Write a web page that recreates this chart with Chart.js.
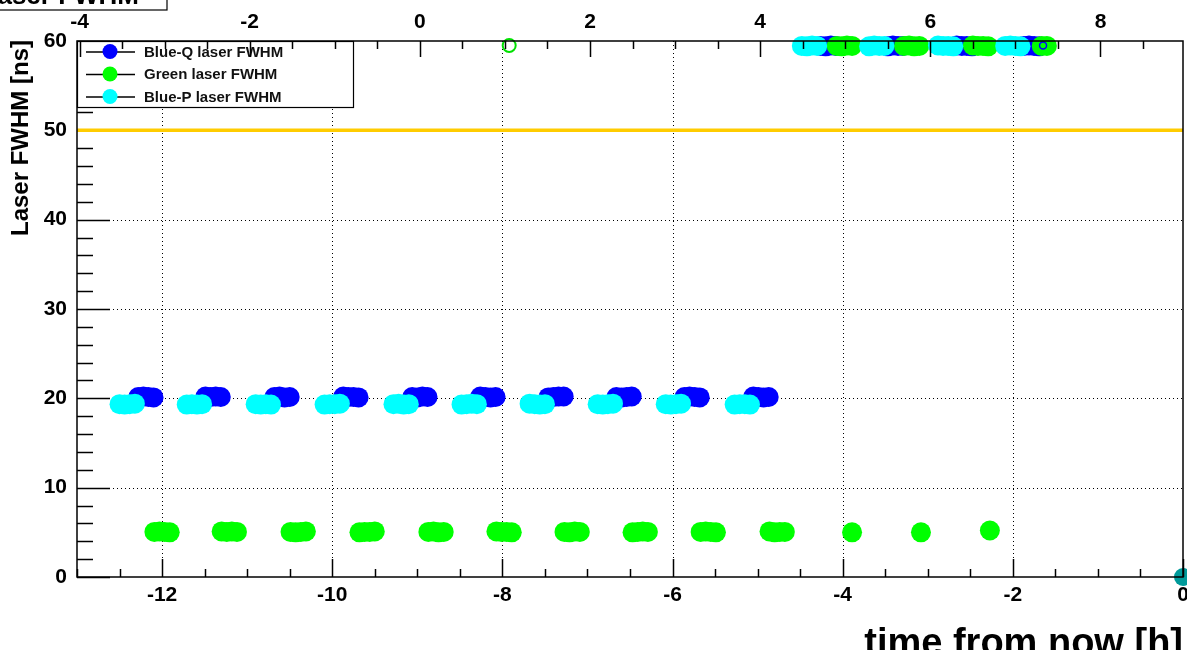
<!DOCTYPE html>
<html>
<head>
<meta charset="utf-8">
<script src="https://cdn.jsdelivr.net/npm/chart.js@4.4.0/dist/chart.umd.min.js"></script>
<style>
  html, body { margin: 0; padding: 0; background: #fff; overflow: hidden; }
  #wrap { position: relative; width: 1187px; height: 650px; }
</style>
</head>
<body>
<div id="wrap"><canvas id="fwhm-chart" width="1187" height="650"></canvas></div>
<script>
// axis ranges and tick labels
const xRange = [-13, 0];
const topRange = [-4.03, 8.97];
const yRange = [0, 60];
const xTicks = [-12, -10, -8, -6, -4, -2, 0];
const topTicks = [-4, -2, 0, 2, 4, 6, 8];
const yTicks = [0, 10, 20, 30, 40, 50, 60];
const thresholdValue = 50;

// Blue-Q laser FWHM
const blueQTime = [
  -12.28, -12.22, -12.16, -12.10,
  -11.49, -11.43, -11.37, -11.31,
  -10.68, -10.62, -10.56, -10.50,
  -9.87, -9.81, -9.75, -9.69,
  -9.06, -9.00, -8.94, -8.88,
  -8.26, -8.20, -8.14, -8.08,
  -7.46, -7.40, -7.34, -7.28,
  -6.66, -6.60, -6.54, -6.48,
  -5.86, -5.80, -5.74, -5.68,
  -5.05, -4.99, -4.93, -4.87,
  -4.26, -4.20, -4.14, -4.08,
  -3.47, -3.41, -3.35, -3.29,
  -2.66, -2.60, -2.54, -2.48,
  -1.87, -1.81, -1.75, -1.69
];
const blueQWidth = [
  20.15, 20.2, 20.15, 20.1,
  20.2, 20.15, 20.2, 20.15,
  20.15, 20.2, 20.1, 20.15,
  20.2, 20.15, 20.15, 20.1,
  20.15, 20.1, 20.2, 20.15,
  20.2, 20.15, 20.1, 20.15,
  20.1, 20.15, 20.2, 20.2,
  20.15, 20.1, 20.15, 20.2,
  20.15, 20.2, 20.15, 20.1,
  20.2, 20.15, 20.1, 20.15,
  59.45, 59.4, 59.5, 59.45,
  59.4, 59.5, 59.45, 59.45,
  59.5, 59.45, 59.45, 59.4,
  59.45, 59.5, 59.45, 59.4
];

// Green laser FWHM
const greenTime = [
  -12.09, -12.03, -11.97, -11.91,
  -11.30, -11.24, -11.18, -11.12,
  -10.49, -10.43, -10.37, -10.31,
  -9.68, -9.62, -9.56, -9.50,
  -8.87, -8.81, -8.75, -8.69,
  -8.07, -8.01, -7.95, -7.89,
  -7.27, -7.21, -7.15, -7.09,
  -6.47, -6.41, -6.35, -6.29,
  -5.67, -5.61, -5.55, -5.49,
  -4.86, -4.80, -4.74, -4.68,
  -3.89, -3.08, -2.27,
  -4.07, -4.01, -3.95, -3.89,
  -3.28, -3.22, -3.16, -3.10,
  -2.47, -2.41, -2.35, -2.29,
  -1.66, -1.60
];
const greenWidth = [
  5.05, 5.1, 5.05, 5.0,
  5.1, 5.05, 5.1, 5.05,
  5.05, 5.0, 5.05, 5.1,
  5.0, 5.05, 5.05, 5.1,
  5.05, 5.1, 5.0, 5.05,
  5.1, 5.05, 5.05, 5.0,
  5.05, 5.0, 5.1, 5.05,
  5.0, 5.05, 5.1, 5.05,
  5.05, 5.1, 5.05, 5.0,
  5.1, 5.0, 5.05, 5.05,
  5.0, 5.0, 5.2,
  59.45, 59.4, 59.5, 59.45,
  59.45, 59.5, 59.4, 59.45,
  59.5, 59.45, 59.45, 59.4,
  59.45, 59.45
];

// Blue-P laser FWHM
const bluePTime = [
  -12.50, -12.44, -12.38, -12.32,
  -11.71, -11.65, -11.59, -11.53,
  -10.90, -10.84, -10.78, -10.72,
  -10.09, -10.03, -9.97, -9.91,
  -9.28, -9.22, -9.16, -9.10,
  -8.48, -8.42, -8.36, -8.30,
  -7.68, -7.62, -7.56, -7.50,
  -6.88, -6.82, -6.76, -6.70,
  -6.08, -6.02, -5.96, -5.90,
  -5.27, -5.21, -5.15, -5.09,
  -4.48, -4.42, -4.36, -4.30,
  -3.69, -3.63, -3.57, -3.51,
  -2.88, -2.82, -2.76, -2.70,
  -2.09, -2.03, -1.97, -1.91
];
const bluePWidth = [
  19.35, 19.3, 19.35, 19.4,
  19.3, 19.35, 19.3, 19.35,
  19.35, 19.3, 19.35, 19.3,
  19.3, 19.35, 19.35, 19.4,
  19.35, 19.4, 19.3, 19.35,
  19.3, 19.35, 19.4, 19.35,
  19.4, 19.35, 19.3, 19.35,
  19.35, 19.3, 19.35, 19.4,
  19.35, 19.3, 19.35, 19.4,
  19.3, 19.35, 19.35, 19.3,
  59.45, 59.4, 59.5, 59.45,
  59.4, 59.5, 59.45, 59.45,
  59.5, 59.45, 59.45, 59.4,
  59.45, 59.5, 59.45, 59.4
];

// single open markers and the latest point
const greenOpenTime = [-7.92];
const greenOpenWidth = [59.5];
const blueOpenTime = [-1.645];
const blueOpenWidth = [59.5];
const latestTime = [0];
const latestWidth = [0];

const FONT = "'Liberation Sans', Arial, Helvetica, sans-serif";

function pts(xs, ys) {
    return xs.map((v, i) => ({ x: v, y: ys[i] }));
}

function dotMarks(ctx, x1, y1, x2, y2) {
    ctx.save();
    ctx.strokeStyle = '#000';
    ctx.lineWidth = 1;
    ctx.setLineDash([1, 3]);
    ctx.beginPath();
    ctx.moveTo(x1, y1);
    ctx.lineTo(x2, y2);
    ctx.stroke();
    ctx.restore();
}

function minorValues(min, max, step) {
    const out = [];
    for (let v = Math.ceil(min / step) * step; v <= max + 1e-9; v += step) out.push(+v.toFixed(3));
    return out;
}

// dotted grid and left ticks under the points
const gridPlugin = {
    id: 'rootGrid',
    beforeDatasetsDraw(chart) {
        const { ctx, chartArea: a, scales } = chart;
        xTicks.forEach(v => {
            if (v <= xRange[0] || v >= xRange[1]) return;
            const px = Math.round(scales.x.getPixelForValue(v)) + 0.5;
            dotMarks(ctx, px, a.top, px, a.bottom);
        });
        yTicks.forEach(v => {
            if (v <= yRange[0] || v >= yRange[1]) return;
            const py = Math.round(scales.y.getPixelForValue(v)) + 0.5;
            dotMarks(ctx, a.left, py, a.right, py);
        });

        ctx.save();
        ctx.strokeStyle = '#000';
        ctx.lineWidth = 1.5;
        minorValues(yRange[0], yRange[1], 2).forEach(v => {
            const py = Math.round(scales.y.getPixelForValue(v)) + 0.5;
            const len = yTicks.includes(v) ? 33 : 16;
            ctx.beginPath();
            ctx.moveTo(a.left, py);
            ctx.lineTo(a.left + len, py);
            ctx.stroke();
        });
        ctx.restore();
    }
};

// legend, frame, ticks and titles drawn ROOT style
const framePlugin = {
    id: 'rootFrame',
    afterDatasetsDraw(chart) {
        const { ctx, chartArea: a, scales } = chart;
        const xs = scales.x, xt = scales.x2;
        ctx.save();
        ctx.strokeStyle = '#000';

        // legend box
        const lg = { left: a.left, top: a.top, right: 353, bottom: 107 };
        ctx.fillStyle = '#fff';
        ctx.fillRect(lg.left, lg.top, lg.right - lg.left, lg.bottom - lg.top);
        ctx.lineWidth = 1.2;
        ctx.strokeRect(lg.left + 0.5, lg.top + 0.5, lg.right - lg.left, lg.bottom - lg.top);
        const rows = [51.5, 74, 96.5];
        chart.data.datasets.slice(0, 3).forEach((ds, i) => {
            const ry = rows[i];
            ctx.lineWidth = 1.3;
            ctx.beginPath();
            ctx.moveTo(86, ry + 0.5);
            ctx.lineTo(135, ry + 0.5);
            ctx.stroke();
            ctx.fillStyle = ds.backgroundColor;
            ctx.beginPath();
            ctx.arc(110, ry, 7.5, 0, Math.PI * 2);
            ctx.fill();
            ctx.fillStyle = '#111';
            ctx.font = 'bold 15px ' + FONT;
            ctx.textAlign = 'left';
            ctx.textBaseline = 'middle';
            ctx.fillText(ds.label, 144, ry + 1);
        });

        // frame
        ctx.lineWidth = 1.5;
        ctx.strokeRect(a.left, a.top, a.right - a.left, a.bottom - a.top);

        // bottom axis ticks (pointing up)
        minorValues(xRange[0], xRange[1], 0.5).forEach(v => {
            const px = Math.round(xs.getPixelForValue(v)) + 0.5;
            const len = xTicks.includes(v) ? 18 : 8;
            ctx.beginPath();
            ctx.moveTo(px, a.bottom);
            ctx.lineTo(px, a.bottom - len);
            ctx.stroke();
        });

        // top axis ticks (pointing down)
        minorValues(topRange[0], topRange[1], 0.5).forEach(v => {
            const px = Math.round(xt.getPixelForValue(v)) + 0.5;
            const len = topTicks.includes(v) ? 16 : 8;
            ctx.beginPath();
            ctx.moveTo(px, a.top);
            ctx.lineTo(px, a.top + len);
            ctx.stroke();
        });

        // clipped title box top left
        ctx.fillStyle = '#fff';
        ctx.fillRect(-10, -40, 177, 50);
        ctx.lineWidth = 1.2;
        ctx.strokeRect(-10, -40, 177, 50);
        ctx.fillStyle = '#000';
        ctx.font = 'bold 26px ' + FONT;
        ctx.textAlign = 'right';
        ctx.textBaseline = 'alphabetic';
        ctx.fillText('Laser FWHM', 139, 4);

        // y title
        ctx.save();
        ctx.translate(28, 40);
        ctx.rotate(-Math.PI / 2);
        ctx.font = 'bold 24px ' + FONT;
        ctx.textAlign = 'right';
        ctx.textBaseline = 'alphabetic';
        ctx.fillText('Laser FWHM [ns]', 0, 0);
        ctx.restore();

        // x title
        ctx.font = 'bold 38px ' + FONT;
        ctx.textAlign = 'right';
        ctx.textBaseline = 'alphabetic';
        ctx.fillText('time from now [h]', a.right, 655);

        ctx.restore();
    }
};

function fixedSize(prop, size) {
    return function(scale) {
        scale[prop] = size;
        scale.paddingLeft = 0;
        scale.paddingRight = 0;
        scale.paddingTop = 0;
        scale.paddingBottom = 0;
    };
}

const tickFont = { family: FONT, size: 21, weight: 'bold' };
const MARK = 10;

const ctx = document.getElementById('fwhm-chart').getContext('2d');
new Chart(ctx, {
    type: 'scatter',
    data: {
        datasets: [
            {
                label: 'Blue-Q laser FWHM',
                data: pts(blueQTime, blueQWidth),
                backgroundColor: '#0000ff',
                borderWidth: 0,
                pointRadius: MARK,
                clip: false,
                order: 3
            },
            {
                label: 'Green laser FWHM',
                data: pts(greenTime, greenWidth),
                backgroundColor: '#00ff00',
                borderWidth: 0,
                pointRadius: MARK,
                clip: false,
                order: 2
            },
            {
                label: 'Blue-P laser FWHM',
                data: pts(bluePTime, bluePWidth),
                backgroundColor: '#00ffff',
                borderWidth: 0,
                pointRadius: MARK,
                clip: false,
                order: 1
            },
            {
                label: 'threshold',
                type: 'line',
                data: [{ x: xRange[0], y: thresholdValue }, { x: xRange[1], y: thresholdValue }],
                borderColor: '#ffcc00',
                borderWidth: 3.5,
                pointRadius: 0,
                order: 6
            },
            {
                label: 'green open',
                data: pts(greenOpenTime, greenOpenWidth),
                backgroundColor: 'rgba(0,0,0,0)',
                borderColor: '#00e000',
                borderWidth: 2,
                pointRadius: 6.5,
                clip: false,
                order: 0
            },
            {
                label: 'blue open',
                data: pts(blueOpenTime, blueOpenWidth),
                backgroundColor: 'rgba(0,0,0,0)',
                borderColor: '#0000ff',
                borderWidth: 1.5,
                pointRadius: 3.5,
                clip: false,
                order: 0
            },
            {
                label: 'latest',
                data: pts(latestTime, latestWidth),
                backgroundColor: '#009a9a',
                borderWidth: 0,
                pointRadius: 9,
                clip: false,
                order: 0
            }
        ]
    },
    options: {
        responsive: false,
        animation: false,
        devicePixelRatio: 1,
        layout: { autoPadding: false, padding: { left: 0, right: 4, top: 0, bottom: 0 } },
        plugins: { legend: { display: false }, tooltip: { enabled: false } },
        scales: {
            x: {
                type: 'linear',
                position: 'bottom',
                min: xRange[0],
                max: xRange[1],
                afterBuildTicks: s => { s.ticks = xTicks.map(v => ({ value: v })); },
                afterFit: fixedSize('height', 73),
                grid: { display: false, drawTicks: false },
                border: { display: false },
                ticks: { autoSkip: false, maxRotation: 0, padding: 6, color: '#000', font: tickFont, callback: v => String(v) }
            },
            x2: {
                type: 'linear',
                position: 'top',
                min: topRange[0],
                max: topRange[1],
                afterBuildTicks: s => { s.ticks = topTicks.map(v => ({ value: v })); },
                afterFit: fixedSize('height', 41),
                grid: { display: false, drawTicks: false },
                border: { display: false },
                ticks: { autoSkip: false, maxRotation: 0, padding: 6, color: '#000', font: tickFont, callback: v => String(v) }
            },
            y: {
                type: 'linear',
                position: 'left',
                min: yRange[0],
                max: yRange[1],
                afterBuildTicks: s => { s.ticks = yTicks.map(v => ({ value: v })); },
                afterFit: fixedSize('width', 77),
                grid: { display: false, drawTicks: false },
                border: { display: false },
                ticks: { autoSkip: false, padding: 10, color: '#000', font: tickFont, callback: v => String(v) }
            }
        }
    },
    plugins: [gridPlugin, framePlugin]
});
</script>
</body>
</html>
